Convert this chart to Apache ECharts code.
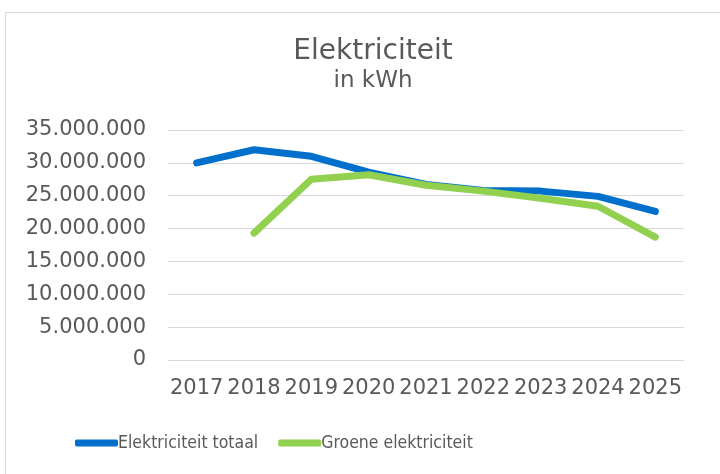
<!DOCTYPE html>
<html>
<head>
<meta charset="utf-8">
<script src="https://cdn.jsdelivr.net/npm/echarts@6/dist/echarts.min.js"></script>
<style>
  html, body { margin: 0; padding: 0; background: #fff; }
  #frame { position: absolute; left: 5px; top: 12px; width: 730px; height: 480px; border: 1px solid #d9d9d9; box-sizing: border-box; }
  #chart { position: absolute; left: 0; top: 0; width: 720px; height: 474px; }
</style>
</head>
<body>
<div id="frame"></div>
<div id="chart"></div>
<script>
  const years = ['2017', '2018', '2019', '2020', '2021', '2022', '2023', '2024', '2025'];
  const totaal = [30000000, 32000000, 31000000, 28600000, 26700000, 25800000, 25700000, 24900000, 22600000];
  const groen = [null, 19300000, 27500000, 28200000, 26600000, 25700000, 24600000, 23400000, 18700000];
  const yTicks = { min: 0, max: 35000000, interval: 5000000 };

  // Nederlandse notatie: punten als duizendtal-scheiding
  function nl(v) {
    return String(v).replace(/\B(?=(\d{3})+(?!\d))/g, '.');
  }

  let chart = echarts.init(document.getElementById('chart'));
  let option = {
    animation: false,
    title: {
      text: 'Elektriciteit',
      subtext: 'in kWh',
      left: 368,
      textAlign: 'center',
      top: 33,
      itemGap: 4,
      textStyle: { fontFamily: 'DejaVu Sans', fontSize: 28, fontWeight: 'normal', color: '#595959' },
      subtextStyle: { fontFamily: 'DejaVu Sans', fontSize: 23, color: '#595959' }
    },
    legend: {
      top: 429,
      left: 70,
      itemWidth: 43,
      itemHeight: 7,
      itemGap: 20,
      icon: 'roundRect',
      textStyle: { fontFamily: 'DejaVu Sans Condensed', fontSize: 17.5, color: '#595959', padding: [0, 0, 0, -5] },
      data: ['Elektriciteit totaal', 'Groene elektriciteit']
    },
    grid: { left: 168, right: 36, top: 130, bottom: 114 },
    xAxis: {
      type: 'category',
      data: years,
      axisTick: { show: false },
      axisLine: { show: false },
      axisLabel: { fontFamily: 'DejaVu Sans', fontSize: 21, color: '#595959', margin: 18, interval: 0 }
    },
    yAxis: {
      type: 'value',
      min: yTicks.min,
      max: yTicks.max,
      interval: yTicks.interval,
      axisLabel: { fontFamily: 'DejaVu Sans', fontSize: 21, color: '#595959', margin: 22, formatter: nl },
      splitLine: { lineStyle: { color: '#d9d9d9', width: 1 } }
    },
    series: [
      {
        name: 'Elektriciteit totaal',
        type: 'line',
        data: totaal,
        symbol: 'none',
        color: '#0070cc',
        lineStyle: { width: 7, cap: 'round', join: 'round' }
      },
      {
        name: 'Groene elektriciteit',
        type: 'line',
        data: groen,
        symbol: 'none',
        color: '#92d050',
        lineStyle: { width: 7, cap: 'round', join: 'round' }
      }
    ]
  };
  chart.setOption(option);
  window.addEventListener('resize', function() { chart.resize() });
</script>
</body>
</html>
